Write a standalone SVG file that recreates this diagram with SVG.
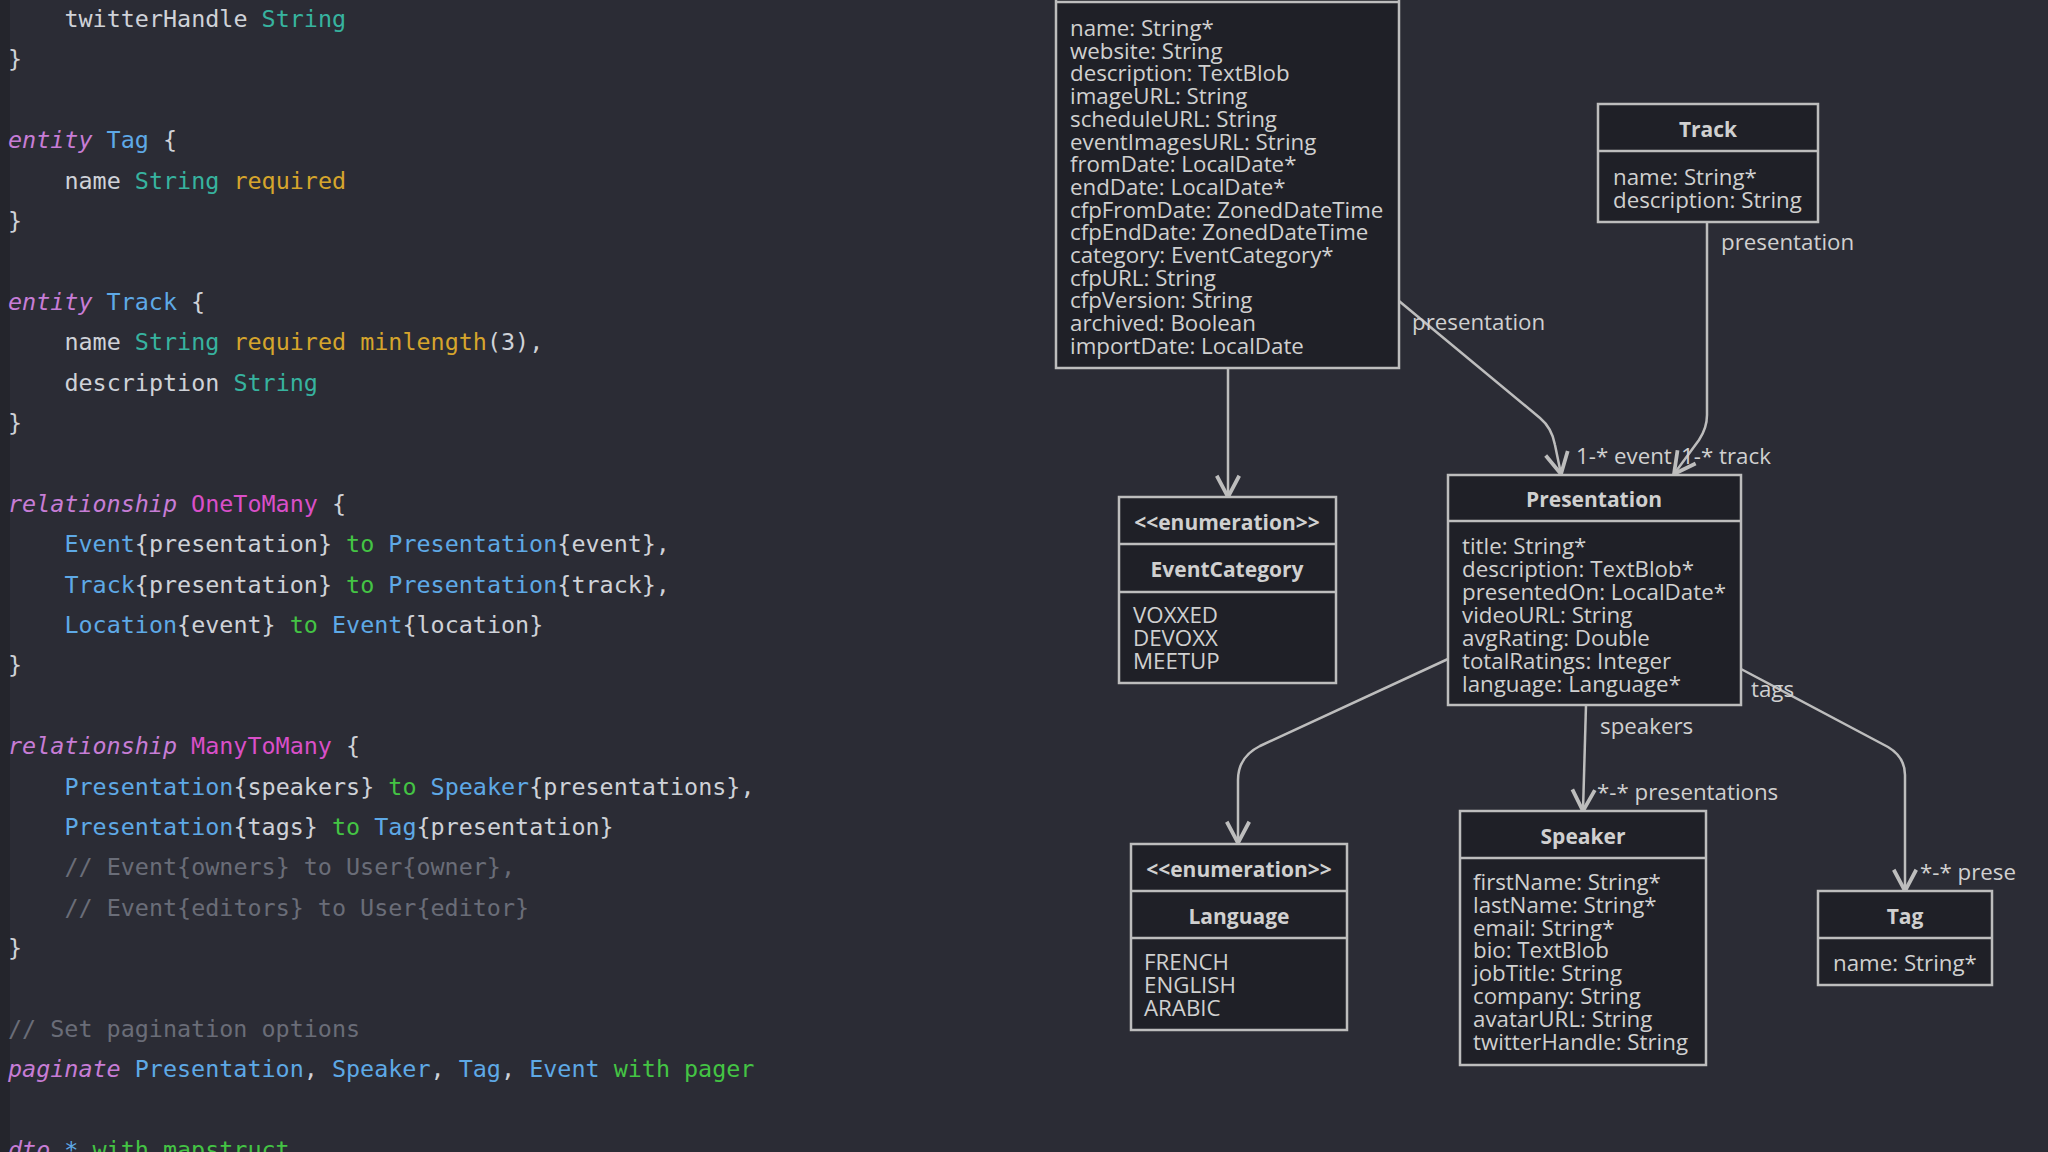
<svg xmlns="http://www.w3.org/2000/svg" width="2048" height="1152" viewBox="0 0 2048 1152">
<style>
.code{font-family:"DejaVu Sans Mono","Liberation Mono",monospace;font-size:23.4px;white-space:pre;fill:#cfd2d8}
.kw{fill:#c77dd6;font-style:italic}
.ty{fill:#37b39f}
.rq{fill:#d6a52c}
.en{fill:#5ea9e6}
.rl{fill:#d94fc8}
.to{fill:#44c444}
.cm{fill:#6a6d78}
.box{fill:#1f2027;stroke:#bdbdbd;stroke-width:2.5}
.dv{stroke:#bdbdbd;stroke-width:2.5}
.t{font-family:"Open Sans","Noto Sans",sans-serif;font-size:22.3px;fill:#d0d0d0}
.b{font-weight:bold;text-anchor:middle;font-size:21px}
.conn path{fill:none;stroke:#bdbdbd;stroke-width:2.5}
</style>
<defs>
<marker id="arr" markerUnits="userSpaceOnUse" markerWidth="30" markerHeight="30" viewBox="-20 -12 24 24" refX="0" refY="0" orient="auto" overflow="visible">
<path d="M-17,-9 L0,0 L-17,9" fill="none" stroke="#bdbdbd" stroke-width="3"/>
</marker>
</defs>
<rect x="0" y="0" width="2048" height="1152" fill="#2b2c35"/>
<rect x="0" y="0" width="10" height="1152" fill="#24252c"/>

<g id="code" class="code">
<text x="64.4" y="27">twitterHandle<tspan class="ty"> String</tspan></text>
<text x="8" y="67.4">}</text>
<text x="8" y="148.2"><tspan class="kw">entity</tspan><tspan class="en"> Tag</tspan> {</text>
<text x="64.4" y="188.6">name<tspan class="ty"> String</tspan><tspan class="rq"> required</tspan></text>
<text x="8" y="229">}</text>
<text x="8" y="309.8"><tspan class="kw">entity</tspan><tspan class="en"> Track</tspan> {</text>
<text x="64.4" y="350.2">name<tspan class="ty"> String</tspan><tspan class="rq"> required minlength</tspan>(3),</text>
<text x="64.4" y="390.6">description<tspan class="ty"> String</tspan></text>
<text x="8" y="431">}</text>
<text x="8" y="511.8"><tspan class="kw">relationship</tspan><tspan class="rl"> OneToMany</tspan> {</text>
<text x="64.4" y="552.2"><tspan class="en">Event</tspan>{presentation}<tspan class="to"> to</tspan><tspan class="en"> Presentation</tspan>{event},</text>
<text x="64.4" y="592.6"><tspan class="en">Track</tspan>{presentation}<tspan class="to"> to</tspan><tspan class="en"> Presentation</tspan>{track},</text>
<text x="64.4" y="633"><tspan class="en">Location</tspan>{event}<tspan class="to"> to</tspan><tspan class="en"> Event</tspan>{location}</text>
<text x="8" y="673.4">}</text>
<text x="8" y="754.2"><tspan class="kw">relationship</tspan><tspan class="rl"> ManyToMany</tspan> {</text>
<text x="64.4" y="794.6"><tspan class="en">Presentation</tspan>{speakers}<tspan class="to"> to</tspan><tspan class="en"> Speaker</tspan>{presentations},</text>
<text x="64.4" y="835"><tspan class="en">Presentation</tspan>{tags}<tspan class="to"> to</tspan><tspan class="en"> Tag</tspan>{presentation}</text>
<text x="64.4" y="875.4" class="cm">// Event{owners} to User{owner},</text>
<text x="64.4" y="915.8" class="cm">// Event{editors} to User{editor}</text>
<text x="8" y="956.2">}</text>
<text x="8" y="1037" class="cm">// Set pagination options</text>
<text x="8" y="1077.4"><tspan class="kw">paginate</tspan><tspan class="en"> Presentation</tspan>,<tspan class="en"> Speaker</tspan>,<tspan class="en"> Tag</tspan>,<tspan class="en"> Event</tspan><tspan class="to"> with pager</tspan></text>
<text x="8" y="1158.2"><tspan class="kw">dto</tspan><tspan class="en"> *</tspan><tspan class="to"> with mapstruct</tspan></text>
</g>

<g id="connectors" class="conn">
<path d="M1228,368 L1228,497" marker-end="url(#arr)"/>
<path d="M1399,301 L1540,418 Q1552,428 1555,445 L1561,474" marker-end="url(#arr)"/>
<path d="M1707,222 L1707,415 Q1707,428 1699,440 L1674,474" marker-end="url(#arr)"/>
<path d="M1448,659 L1260,746 Q1238,757 1238,780 L1238,843" marker-end="url(#arr)"/>
<path d="M1586,705 L1583,811" marker-end="url(#arr)"/>
<path d="M1741,669 L1888,747 Q1905,757 1905,775 L1905,891" marker-end="url(#arr)"/>
</g>

<g id="labels" class="t">
<text x="1412" y="330">presentation</text>
<text x="1721" y="250">presentation</text>
<text x="1576" y="464">1-* event</text>
<text x="1681" y="464">1-* track</text>
<text x="1751" y="697">tags</text>
<text x="1600" y="734">speakers</text>
<text x="1597" y="800">*-* presentations</text>
<text x="1920" y="880">*-* prese</text>
</g>

<g id="event" class="t">
<rect class="box" x="1056" y="-40" width="343" height="408"/>
<line class="dv" x1="1056" y1="2" x2="1399" y2="2"/>
<text x="1070" y="36">name: String*</text>
<text x="1070" y="58.7">website: String</text>
<text x="1070" y="81.4">description: TextBlob</text>
<text x="1070" y="104.1">imageURL: String</text>
<text x="1070" y="126.8">scheduleURL: String</text>
<text x="1070" y="149.5">eventImagesURL: String</text>
<text x="1070" y="172.2">fromDate: LocalDate*</text>
<text x="1070" y="194.9">endDate: LocalDate*</text>
<text x="1070" y="217.6">cfpFromDate: ZonedDateTime</text>
<text x="1070" y="240.3">cfpEndDate: ZonedDateTime</text>
<text x="1070" y="263">category: EventCategory*</text>
<text x="1070" y="285.7">cfpURL: String</text>
<text x="1070" y="308.4">cfpVersion: String</text>
<text x="1070" y="331.1">archived: Boolean</text>
<text x="1070" y="353.8">importDate: LocalDate</text>
</g>

<g id="track" class="t">
<rect class="box" x="1598" y="104" width="220" height="118"/>
<line class="dv" x1="1598" y1="151" x2="1818" y2="151"/>
<text class="b" x="1708" y="137">Track</text>
<text x="1613" y="185">name: String*</text>
<text x="1613" y="207.7">description: String</text>
</g>

<g id="eventcategory" class="t">
<rect class="box" x="1119" y="497" width="217" height="186"/>
<line class="dv" x1="1119" y1="544" x2="1336" y2="544"/>
<line class="dv" x1="1119" y1="592" x2="1336" y2="592"/>
<text class="b" x="1227" y="530">&lt;&lt;enumeration&gt;&gt;</text>
<text class="b" x="1227" y="577">EventCategory</text>
<text x="1133" y="623">VOXXED</text>
<text x="1133" y="646">DEVOXX</text>
<text x="1133" y="669">MEETUP</text>
</g>

<g id="presentation" class="t">
<rect class="box" x="1448" y="475" width="293" height="230"/>
<line class="dv" x1="1448" y1="521" x2="1741" y2="521"/>
<text class="b" x="1594" y="507">Presentation</text>
<text x="1462" y="554">title: String*</text>
<text x="1462" y="577">description: TextBlob*</text>
<text x="1462" y="600">presentedOn: LocalDate*</text>
<text x="1462" y="623">videoURL: String</text>
<text x="1462" y="646">avgRating: Double</text>
<text x="1462" y="669">totalRatings: Integer</text>
<text x="1462" y="692">language: Language*</text>
</g>

<g id="language" class="t">
<rect class="box" x="1131" y="844" width="216" height="186"/>
<line class="dv" x1="1131" y1="891" x2="1347" y2="891"/>
<line class="dv" x1="1131" y1="938" x2="1347" y2="938"/>
<text class="b" x="1239" y="877">&lt;&lt;enumeration&gt;&gt;</text>
<text class="b" x="1239" y="924">Language</text>
<text x="1144" y="970">FRENCH</text>
<text x="1144" y="993">ENGLISH</text>
<text x="1144" y="1016">ARABIC</text>
</g>

<g id="speaker" class="t">
<rect class="box" x="1460" y="811" width="246" height="254"/>
<line class="dv" x1="1460" y1="858" x2="1706" y2="858"/>
<text class="b" x="1583" y="844">Speaker</text>
<text x="1473" y="890">firstName: String*</text>
<text x="1473" y="912.8">lastName: String*</text>
<text x="1473" y="935.6">email: String*</text>
<text x="1473" y="958.4">bio: TextBlob</text>
<text x="1473" y="981.2">jobTitle: String</text>
<text x="1473" y="1004">company: String</text>
<text x="1473" y="1026.8">avatarURL: String</text>
<text x="1473" y="1049.6">twitterHandle: String</text>
</g>

<g id="tag" class="t">
<rect class="box" x="1818" y="891" width="174" height="94"/>
<line class="dv" x1="1818" y1="938" x2="1992" y2="938"/>
<text class="b" x="1905" y="924">Tag</text>
<text x="1833" y="971">name: String*</text>
</g>
</svg>
